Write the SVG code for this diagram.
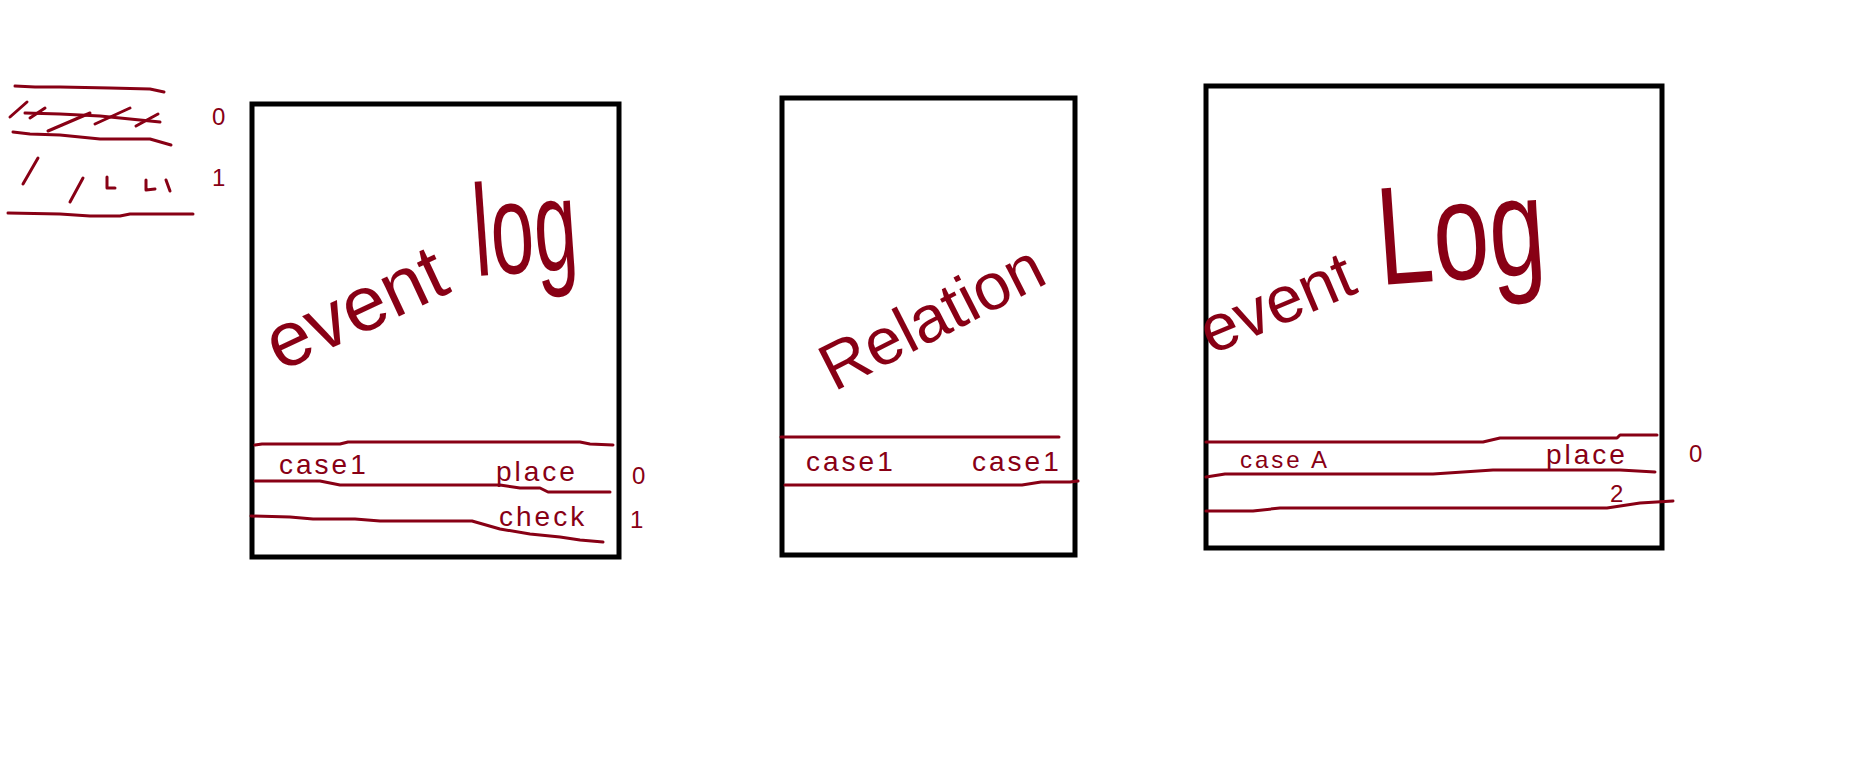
<svg xmlns="http://www.w3.org/2000/svg" width="1875" height="767" viewBox="0 0 1875 767">
<style>
.box{fill:none;stroke:#000;stroke-width:5}
.ln{fill:none;stroke:#880015;stroke-width:3;stroke-linecap:round;stroke-linejoin:round}
.t{fill:#880015;font-family:"Liberation Sans",Arial,sans-serif}
.sm{font-size:28px;letter-spacing:3px}
.xs{font-size:24px;letter-spacing:3px}
</style>
<rect width="1875" height="767" fill="#fff"/>
<g id="legend">
<path class="ln" d="M15,86 L35,87 L60,87 L110,88 L150,89 L164,92"/>
<path class="ln" d="M25,113 L60,114 L100,116 L140,120 L160,122"/>
<path class="ln" d="M10,117 L27,102 M30,118 L45,108 M48,131 L90,113 M95,124 L130,108 M136,126 L158,114"/>
<path class="ln" d="M13,132 L30,134 L60,135 L100,139 L150,139 L171,145"/>
<path class="ln" d="M23,184 L38,158 M70,202 L83,178 M107,177 L107,188 L115,188 M146,180 L146,190 L155,189 M166,180 L170,191"/>
<path class="ln" d="M8,213 L60,214 L90,216 L120,216 L130,214 L193,214"/>
<text class="t xs" x="212" y="125">0</text>
<text class="t xs" x="212" y="186">1</text>
</g>
<g id="box1">
<rect class="box" x="252" y="104" width="367" height="453"/>
<text class="t" style="font-size:78px" transform="translate(280,372) rotate(-25)">event</text>
<text class="t" style="font-size:130px" transform="translate(476,276) rotate(-4) scale(0.6,1)">log</text>
<path class="ln" d="M255,445 L262,444 L340,444 L348,442 L580,442 L590,444 L613,445"/>
<path class="ln" d="M255,481 L320,481 L340,485 L500,485 L520,488 L540,488 L548,492 L610,492"/>
<path class="ln" d="M251,516 L290,517 L313,519 L355,519 L380,521 L472,521 L500,529 L530,534 L560,537 L580,540 L603,542"/>
<text class="t sm" x="279" y="474">case1</text>
<text class="t sm" x="496" y="481">place</text>
<text class="t sm" x="499" y="526">check</text>
<text class="t xs" x="632" y="484">0</text>
<text class="t xs" x="630" y="528">1</text>
</g>
<g id="box2">
<rect class="box" x="782" y="98" width="293" height="457"/>
<text class="t" style="font-size:66px" transform="translate(834,392) rotate(-27)">Relation</text>
<path class="ln" d="M781,437 L1059,437"/>
<path class="ln" d="M785,485 L1022,485 L1041,482 L1070,482 L1078,481"/>
<text class="t sm" x="806" y="471">case1</text>
<text class="t sm" x="972" y="471">case1</text>
</g>
<g id="box3">
<rect class="box" x="1206" y="86" width="456" height="462"/>
<text class="t" style="font-size:66px" transform="translate(1211,355) rotate(-23)">event</text>
<text class="t" style="font-size:140px" transform="translate(1380,285) rotate(-4) scale(0.72,1)">Log</text>
<path class="ln" d="M1206,442 L1483,442 L1500,438 L1617,438 L1620,435 L1657,435"/>
<path class="ln" d="M1206,477 L1225,474 L1433,474 L1493,470 L1620,470 L1655,472"/>
<path class="ln" d="M1206,511 L1253,511 L1280,508 L1607,508 L1640,503 L1673,501"/>
<text class="t xs" x="1240" y="468">case A</text>
<text class="t sm" x="1546" y="464">place</text>
<text class="t xs" x="1610" y="502">2</text>
<text class="t xs" x="1689" y="462">0</text>
</g>
</svg>
